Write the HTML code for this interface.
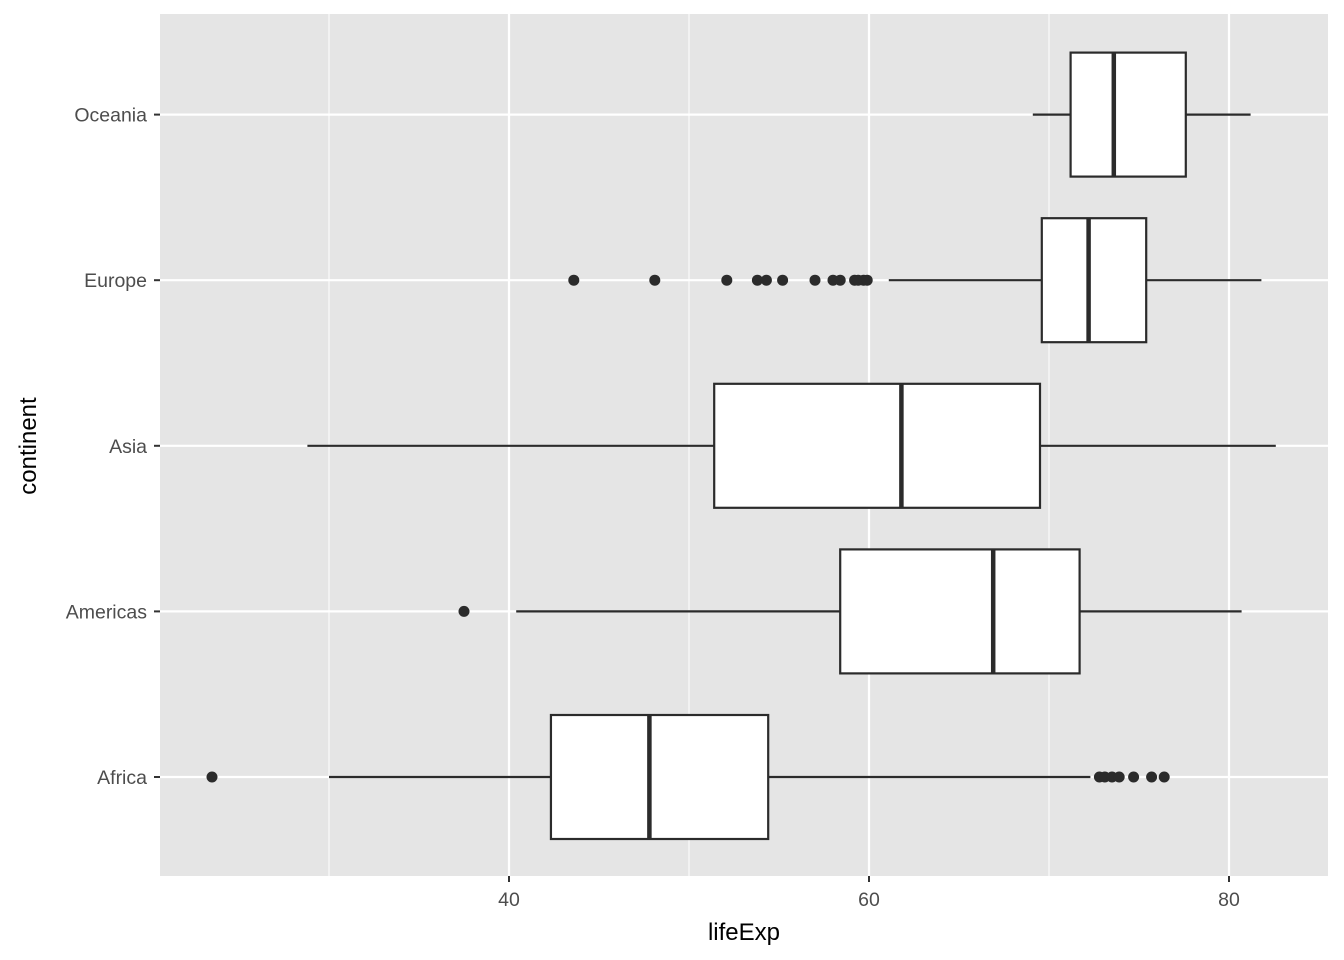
<!DOCTYPE html>
<html><head><meta charset="utf-8"><style>
body{margin:0;background:#fff;}
svg{display:block;font-family:"Liberation Sans",Arial,sans-serif;}
</style></head><body>
<svg id="chart" width="1344" height="960">
<rect x="160" y="14" width="1168" height="862" fill="#e5e5e5"/>
<g id="grid"></g><g id="boxes"></g><g id="axes"></g>
<text x="744" y="940" font-size="24" text-anchor="middle" fill="#000">lifeExp</text>
<text transform="translate(36,446) rotate(-90)" font-size="24" text-anchor="middle" fill="#000">continent</text>
</svg>
<script>
const categories=["Africa","Americas","Asia","Europe","Oceania"];
const whiskerLow=[30.0,40.4,28.8,61.1,69.1];
const q1=[42.33,58.4,51.4,69.6,71.2];
const median=[47.8,66.9,61.8,72.2,73.6];
const q3=[54.4,71.7,69.5,75.4,77.6];
const whiskerHigh=[72.3,80.7,82.6,81.8,81.2];
const outliers=[[23.5,72.8,73.1,73.5,73.9,74.7,75.7,76.4],[37.5],[],[43.6,48.1,52.1,53.8,54.3,55.2,57.0,58.0,58.4,59.2,59.4,59.7,59.9],[]];
const xTicks=[40,60,80];
const xMinor=[30,50,70];
const NS="http://www.w3.org/2000/svg";
const X=v=>509+(v-40)*18;
const Y=i=>777-i*165.6;
function mk(t,a,p){const e=document.createElementNS(NS,t);for(const k in a)e.setAttribute(k,a[k]);p.appendChild(e);return e;}
const grid=document.getElementById('grid'),boxes=document.getElementById('boxes'),axes=document.getElementById('axes');
xMinor.forEach(v=>{const l=mk('line',{x1:X(v),x2:X(v),y1:14,y2:876,stroke:'#fff','stroke-width':1},grid);

});
xTicks.forEach(v=>{const l=mk('line',{x1:X(v),x2:X(v),y1:14,y2:876,stroke:'#fff','stroke-width':2.2},grid);


const t=mk('line',{x1:X(v),x2:X(v),y1:876,y2:882,stroke:'#333','stroke-width':2},axes);


const s=mk('text',{x:X(v),y:906,'font-size':19.5,'text-anchor':'middle',fill:'#4d4d4d'},axes);s.textContent=v;

});
categories.forEach((c,i)=>{const y=Y(i);
const l=mk('line',{x1:160,x2:1328,y1:y,y2:y,stroke:'#fff','stroke-width':2.2},grid);


const t=mk('line',{x1:154,x2:160,y1:y,y2:y,stroke:'#333','stroke-width':2},axes);


const s=mk('text',{x:147,y:y+7,'font-size':19.5,'text-anchor':'end',fill:'#4d4d4d'},axes);s.textContent=c;


const g=mk('g',{},boxes);


mk('line',{x1:X(whiskerLow[i]),x2:X(q1[i]),y1:y,y2:y,stroke:'#2b2b2b','stroke-width':2.2},g);
mk('line',{x1:X(q3[i]),x2:X(whiskerHigh[i]),y1:y,y2:y,stroke:'#2b2b2b','stroke-width':2.2},g);
mk('rect',{x:X(q1[i]),y:y-62,width:X(q3[i])-X(q1[i]),height:124,fill:'#fff',stroke:'#2b2b2b','stroke-width':2.2},g);
mk('line',{x1:X(median[i]),x2:X(median[i]),y1:y-62,y2:y+62,stroke:'#2b2b2b','stroke-width':4.5},g);
outliers[i].forEach(v=>{const d=mk('circle',{cx:X(v),cy:y,r:5.5,fill:'#2b2b2b'},g);

});});
</script>
</body></html>
